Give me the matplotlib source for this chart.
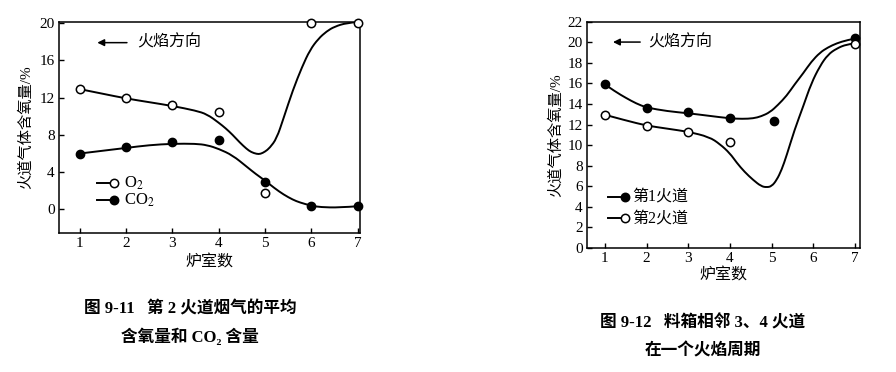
import matplotlib
matplotlib.use("Agg")
import matplotlib.pyplot as plt
from matplotlib.path import Path
from matplotlib.patches import PathPatch

plt.rcParams['font.family'] = ['Liberation Serif', 'Noto Sans CJK SC', 'DejaVu Serif']
plt.rcParams['mathtext.fontset'] = 'stix'

# ---------------- data: figure 9-11 ----------------
rooms = [1, 2, 3, 4, 5, 6, 7]
o2_pts = [12.9, 11.9, 11.2, 10.5, 1.8, 20.0, 20.0]
co2_pts = [6.0, 6.7, 7.2, 7.4, 3.0, 0.35, 0.35]
# fitted curves
o2_curve_x = [1.0, 1.5, 2.0, 2.5, 3.0, 3.5, 3.75, 4.0, 4.15, 4.3, 4.45, 4.6, 4.7, 4.82, 4.9,
              5.0, 5.1, 5.25, 5.4, 5.6, 5.8, 5.97, 6.15, 6.33, 6.5, 6.76, 7.0]
o2_curve_y = [12.9, 12.4, 11.9, 11.5, 11.1, 10.6, 10.2, 9.3, 8.7, 8.0, 7.2, 6.5, 6.15, 5.95, 5.95,
              6.2, 6.6, 7.6, 9.8, 12.8, 15.3, 17.1, 18.3, 19.1, 19.6, 20.0, 20.1]
co2_curve_x = [1.0, 1.5, 2.0, 2.5, 3.0, 3.5, 3.75, 4.0, 4.3, 4.6, 4.8, 5.0, 5.2, 5.4, 5.6, 5.75,
               6.0, 6.2, 6.6, 7.0]
co2_curve_y = [6.0, 6.3, 6.6, 6.9, 7.05, 7.05, 6.9, 6.5, 5.8, 4.6, 3.8, 3.1, 2.3, 1.6, 1.05, 0.75,
               0.4, 0.25, 0.2, 0.35]

# ---------------- data: figure 9-12 ----------------
f1_pts_x = [1, 2, 3, 4, 5.05, 7]
f1_pts_y = [15.9, 13.65, 13.2, 12.6, 12.3, 20.4]
f2_pts_x = [1, 2, 3, 4, 7]
f2_pts_y = [12.95, 11.9, 11.3, 10.3, 19.8]
f1_curve_x = [1.0, 1.25, 1.5, 1.75, 2.0, 2.5, 3.0, 3.5, 4.0, 4.3, 4.56, 4.75, 4.96, 5.15, 5.36,
              5.55, 5.76, 5.95, 6.16, 6.35, 6.56, 6.8, 7.04]
f1_curve_y = [15.9, 15.2, 14.6, 14.05, 13.65, 13.3, 13.1, 12.85, 12.6, 12.55, 12.6, 12.8, 13.2,
              13.9, 14.8, 15.9, 17.0, 18.1, 19.0, 19.5, 19.9, 20.2, 20.4]
f2_curve_x = [1.0, 1.5, 2.0, 2.5, 3.0, 3.5, 3.76, 4.0, 4.16, 4.35, 4.56, 4.75, 4.88, 5.0, 5.12,
              5.24, 5.36, 5.55, 5.76, 5.95, 6.16, 6.35, 6.56, 6.8, 7.0]
f2_curve_y = [12.95, 12.4, 11.9, 11.6, 11.3, 10.8, 10.1, 9.2, 8.3, 7.4, 6.6, 6.0, 5.9, 6.0, 6.6,
              7.6, 9.0, 11.5, 13.8, 16.0, 17.7, 18.8, 19.4, 19.8, 19.9]

left_yticks = [0, 4, 8, 12, 16, 20]
right_yticks = list(range(0, 23, 2))
xticks = [1, 2, 3, 4, 5, 6, 7]

W, H = 896, 372
fig = plt.figure(figsize=(W / 100, H / 100), dpi=100)


def rect(l, r, t, b):
    return [l / W, 1 - b / H, (r - l) / W, (b - t) / H]


def style(ax):
    for s in ax.spines.values():
        s.set_linewidth(1.1)
    ax.tick_params(direction='in', length=3.5, width=1, labelsize=11, pad=3)


def smooth_curve(ax, xs, ys, lw):
    # quadratic Bezier path using the read knots as control points
    verts = [(xs[0], ys[0])]
    codes = [Path.MOVETO]
    n = len(xs)
    for i in range(1, n - 1):
        verts.append((xs[i], ys[i]))
        verts.append(((xs[i] + xs[i + 1]) / 2, (ys[i] + ys[i + 1]) / 2) if i < n - 2
                     else (xs[i + 1], ys[i + 1]))
        codes += [Path.CURVE3, Path.CURVE3]
    ax.add_patch(PathPatch(Path(verts, codes), fill=False, edgecolor='black', lw=lw,
                           capstyle='round', joinstyle='round'))


lw = 1.4
ms = 6

# ---------- left chart ----------
ax1 = fig.add_axes(rect(59, 360, 21.5, 233))
smooth_curve(ax1, o2_curve_x, o2_curve_y, lw)
smooth_curve(ax1, co2_curve_x, co2_curve_y, lw)
ax1.plot(rooms, o2_pts, 'o', ms=ms, mfc='white', mec='black', mew=1.1, clip_on=False, zorder=5)
ax1.plot(rooms, co2_pts, 'o', ms=ms, mfc='black', mec='black', clip_on=False, zorder=5)
ax1.set_xlim(0.55, 7.05)
ax1.set_ylim(-2.52, 20.15)
ax1.set_xticks(xticks)
ax1.set_yticks(left_yticks)
style(ax1)
ax1.set_xlabel('炉室数', fontsize=11.5, labelpad=3)
ax1.set_ylabel('火道气体含氧量/%', fontsize=11, labelpad=5)
ax1.annotate('', xy=(0.118, 0.90), xytext=(0.235, 0.90), xycoords='axes fraction',
             arrowprops=dict(arrowstyle='-|>', color='black', lw=1.1, mutation_scale=10))
ax1.text(0.26, 0.90, '火焰方向', transform=ax1.transAxes, fontsize=11.5, va='center')
# legend
for yy, fc, lab in [(0.236, 'white', 'O$_2$'), (0.156, 'black', 'CO$_2$')]:
    ax1.plot([0.126, 0.183], [yy, yy], color='black', lw=lw, transform=ax1.transAxes)
    ax1.plot([0.183], [yy], 'o', ms=ms, mfc=fc, mec='black', mew=1.1, transform=ax1.transAxes)
    ax1.text(0.215, yy, lab, transform=ax1.transAxes, fontsize=12, va='center')

# ---------- right chart ----------
ax2 = fig.add_axes(rect(587, 860, 21.7, 248))
smooth_curve(ax2, f1_curve_x, f1_curve_y, lw)
smooth_curve(ax2, f2_curve_x, f2_curve_y, lw)
ax2.plot(f1_pts_x, f1_pts_y, 'o', ms=ms, mfc='black', mec='black', clip_on=False, zorder=5)
ax2.plot(f2_pts_x, f2_pts_y, 'o', ms=ms, mfc='white', mec='black', mew=1.1, clip_on=False, zorder=5)
ax2.set_xlim(0.57, 7.12)
ax2.set_ylim(0, 21.86)
ax2.set_xticks(xticks)
ax2.set_yticks(right_yticks)
style(ax2)
ax2.set_xlabel('炉室数', fontsize=11.5, labelpad=2)
ax2.set_ylabel('火道气体含氧量/%', fontsize=11, labelpad=3)
ax2.annotate('', xy=(0.085, 0.91), xytext=(0.205, 0.91), xycoords='axes fraction',
             arrowprops=dict(arrowstyle='-|>', color='black', lw=1.1, mutation_scale=10))
ax2.text(0.225, 0.91, '火焰方向', transform=ax2.transAxes, fontsize=11.5, va='center')
for yy, fc, lab in [(0.227, 'black', '第1火道'), (0.131, 'white', '第2火道')]:
    ax2.plot([0.077, 0.139], [yy, yy], color='black', lw=lw, transform=ax2.transAxes)
    ax2.plot([0.139], [yy], 'o', ms=ms, mfc=fc, mec='black', mew=1.1, transform=ax2.transAxes)
    ax2.text(0.165, yy, lab, transform=ax2.transAxes, fontsize=11.5, va='center')

# ---------- captions ----------
cap = dict(fontsize=12, ha='center', va='center', fontweight='bold')
fig.text(190 / W, 1 - 309 / H, '图 9-11   第 2 火道烟气的平均', **cap)
fig.text(190 / W, 1 - 337 / H, '含氧量和 CO₂ 含量', **cap)
fig.text(703 / W, 1 - 323 / H, '图 9-12   料箱相邻 3、4 火道', **cap)
fig.text(703 / W, 1 - 351 / H, '在一个火焰周期', **cap)

fig.savefig('out.png', dpi=100)
